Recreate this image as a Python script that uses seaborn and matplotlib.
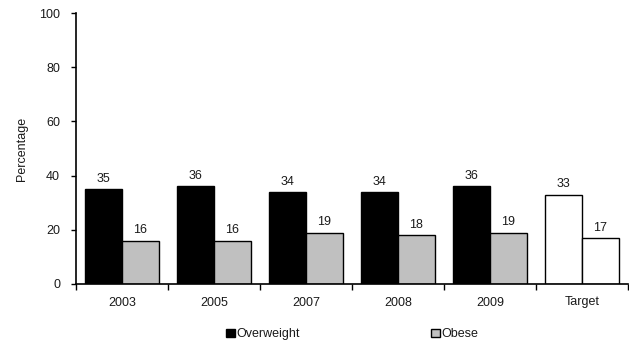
import matplotlib
matplotlib.use("Agg")
import matplotlib.pyplot as plt
from matplotlib.patches import Patch
from matplotlib.ticker import FixedLocator
import seaborn as sns
import pandas as pd

years = ["2003", "2005", "2007", "2008", "2009", "Target"]
overweight = [35, 36, 34, 34, 36, 33]
obese = [16, 16, 19, 18, 19, 17]
series = ["Overweight", "Obese"]

sns.set_style("white")
plt.rcParams["font.family"] = ["Liberation Sans", "DejaVu Sans"]
plt.rcParams["text.color"] = "#1a1a1a"
plt.rcParams["axes.labelcolor"] = "#1a1a1a"
plt.rcParams["xtick.color"] = "#1a1a1a"
plt.rcParams["ytick.color"] = "#1a1a1a"

df = pd.DataFrame({
    "Year": years * 2,
    "Group": [series[0]] * len(years) + [series[1]] * len(years),
    "Percentage": overweight + obese,
})

fig = plt.figure(figsize=(6.29, 3.43), dpi=100)
ax = fig.add_axes([76 / 629, 1 - 284 / 343, 552 / 629, 271 / 343])

sns.barplot(data=df, x="Year", y="Percentage", hue="Group", order=years,
            hue_order=series, palette=["black", "#c0c0c0"], width=0.8,
            edgecolor="black", linewidth=1.0, saturation=1, legend=False, ax=ax)

# Target bars are outlined only
for container in ax.containers:
    container.patches[-1].set_facecolor("white")
    ax.bar_label(container, fmt="%d", padding=3, fontsize=9)

ax.set_ylim(0, 100)
ax.set_xlim(-0.5, len(years) - 0.5)
ax.set_yticks(range(0, 101, 20))
ax.set_ylabel("Percentage", fontsize=9)
ax.yaxis.set_label_coords(-0.087, 0.5)
ax.set_xlabel("")
ax.tick_params(axis="both", labelsize=9)
ax.tick_params(axis="y", which="major", direction="out", length=3.5, width=1,
               color="black", left=True, pad=8)
ax.tick_params(axis="x", which="major", length=0, pad=9)
ax.xaxis.set_minor_locator(FixedLocator([i - 0.5 for i in range(len(years) + 1)]))
ax.tick_params(axis="x", which="minor", direction="out", length=4, width=1,
               color="black", bottom=True)

for side in ["top", "right"]:
    ax.spines[side].set_visible(False)
for side in ["left", "bottom"]:
    ax.spines[side].set_color("black")
    ax.spines[side].set_linewidth(1.2)

handles = [Patch(facecolor="black", edgecolor="black", label=series[0]),
           Patch(facecolor="#c0c0c0", edgecolor="black", label=series[1])]
fig.legend(handles=handles, loc="center", bbox_to_anchor=(0.56, 0.025), ncol=2,
           frameon=False, fontsize=9, handlelength=0.7, handleheight=0.7,
           handletextpad=0.15, columnspacing=10.5)

fig.savefig("out.png", dpi=100)
